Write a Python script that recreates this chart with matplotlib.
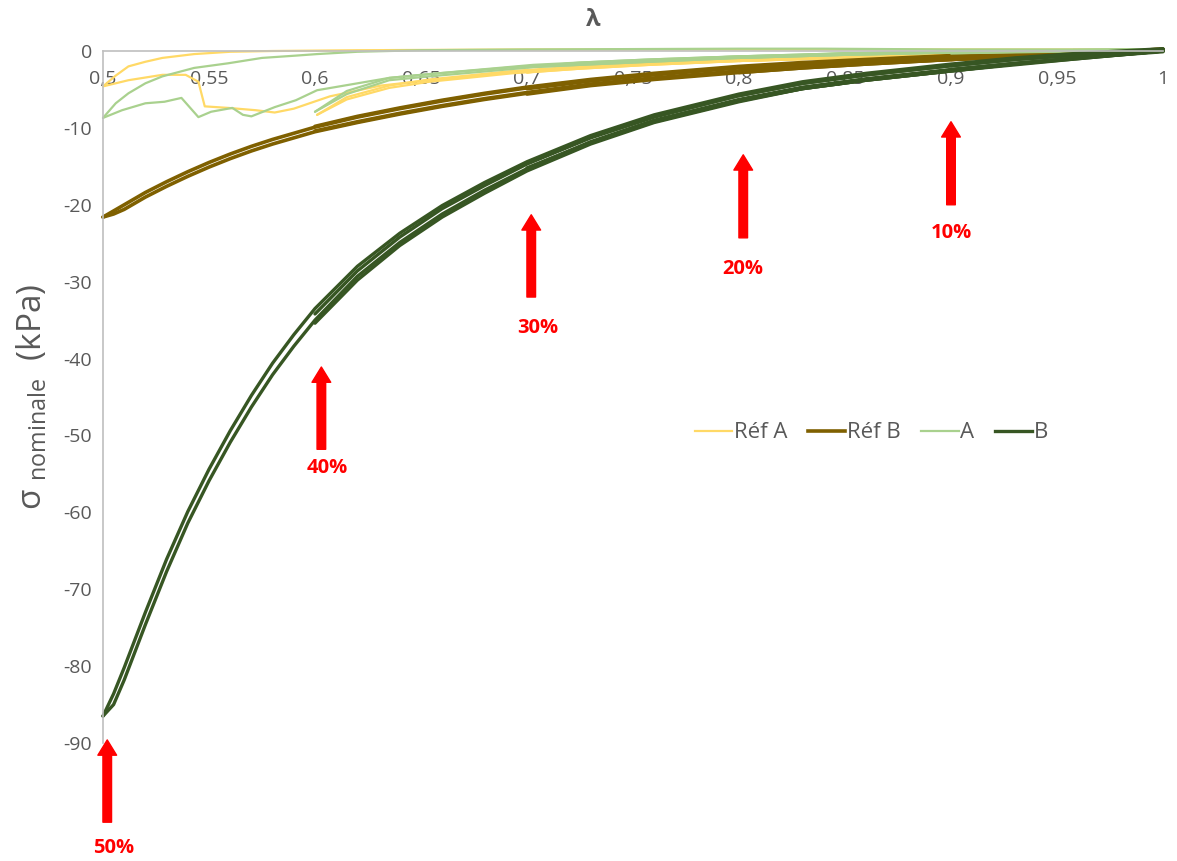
import matplotlib
matplotlib.use("Agg")
import matplotlib.pyplot as plt
from matplotlib.lines import Line2D

plt.rcParams['font.family'] = ['Open Sans', 'DejaVu Sans']
plt.rcParams['axes.unicode_minus'] = False

# common stretch grid for the B / Réf B curves
lam_grid = [0.50, 0.505, 0.51, 0.515, 0.52, 0.53, 0.54, 0.55, 0.56, 0.57, 0.58, 0.59, 0.60,
            0.62, 0.64, 0.66, 0.68, 0.70, 0.73, 0.76, 0.80, 0.83, 0.86, 0.90, 0.93, 0.96, 1.00]

# B : the two branches of each cycle (50 % .. 10 %)
b50_up = [-86.5, -83.6, -80.2, -76.6, -73.0, -66.1, -59.9, -54.4, -49.4, -44.8, -40.6, -36.9, -33.5,
          -28.0, -23.7, -20.1, -17.1, -14.4, -11.0, -8.3, -5.6, -4.0, -2.9, -1.7, -0.9, -0.3, 0.3]
b50_lo = [-86.5, -85.0, -81.8, -78.2, -74.6, -67.7, -61.4, -55.9, -50.9, -46.3, -42.1, -38.4, -35.0,
          -29.3, -24.9, -21.2, -18.1, -15.3, -11.8, -9.0, -6.3, -4.7, -3.6, -2.4, -1.6, -0.9, -0.1]
b60_up = [-34.2, -28.6, -24.2, -20.5, -17.5, -14.7, -11.3, -8.6, -5.8, -4.2, -3.1, -1.9, -1.1, -0.5, 0.2]
b60_lo = [-35.4, -29.8, -25.3, -21.6, -18.5, -15.6, -12.1, -9.3, -6.6, -4.9, -3.8, -2.6, -1.8, -1.0, 0.0]
b70_up = [-14.6, -11.2, -8.5, -5.8, -4.2, -3.1, -1.9, -1.1, -0.5, 0.2]
b70_lo = [-15.2, -11.9, -9.2, -6.5, -4.9, -3.8, -2.6, -1.7, -1.0, 0.0]
b80_up = [-5.8, -4.2, -3.1, -1.9, -1.1, -0.5, 0.2]
b80_lo = [-6.4, -4.9, -3.8, -2.6, -1.7, -0.9, 0.0]
b90_up = [-1.9, -1.0, -0.4, 0.2]
b90_lo = [-2.4, -1.6, -0.9, 0.0]

# Réf B
rb50_up = [-21.6, -20.8, -20.0, -19.2, -18.4, -17.0, -15.7, -14.5, -13.4, -12.4, -11.5, -10.7, -9.9,
           -8.6, -7.5, -6.5, -5.6, -4.8, -3.8, -3.0, -2.1, -1.6, -1.2, -0.7, -0.4, -0.1, 0.2]
rb50_lo = [-21.6, -21.2, -20.6, -19.8, -19.0, -17.6, -16.3, -15.1, -14.0, -13.0, -12.1, -11.3, -10.5,
           -9.3, -8.2, -7.2, -6.3, -5.5, -4.4, -3.6, -2.7, -2.1, -1.6, -1.1, -0.7, -0.3, 0.1]
rb60_up = [-9.8, -8.5, -7.4, -6.4, -5.5, -4.7, -3.7, -2.9, -2.0, -1.5, -1.1, -0.6, -0.3, -0.1, 0.2]
rb60_lo = [-10.4, -9.2, -8.1, -7.1, -6.2, -5.4, -4.3, -3.5, -2.6, -2.0, -1.5, -1.0, -0.6, -0.3, 0.1]
rb70_up = [-4.9, -3.9, -3.1, -2.2, -1.7, -1.3, -0.8, -0.4, -0.1, 0.2]
rb70_lo = [-5.6, -4.5, -3.7, -2.8, -2.2, -1.7, -1.1, -0.7, -0.3, 0.1]
rb80_up = [-2.2, -1.7, -1.3, -0.8, -0.4, -0.1, 0.2]
rb80_lo = [-2.8, -2.2, -1.7, -1.1, -0.7, -0.3, 0.1]
rb90_up = [-0.8, -0.5, -0.2, 0.2]
rb90_lo = [-1.1, -0.7, -0.3, 0.1]

# Réf A (own stretch points, the 50 % cycle is noisy)
ra50_unload_lam = [0.5, 0.506, 0.512, 0.52, 0.528, 0.543, 0.56, 0.58, 0.62, 0.7, 0.8, 0.9, 1.0]
ra50_unload = [-4.6, -3.2, -2.0, -1.4, -0.9, -0.4, -0.1, 0.0, 0.1, 0.2, 0.2, 0.2, 0.2]
ra50_load_lam = [0.5, 0.512, 0.528, 0.539, 0.545, 0.548, 0.559, 0.572, 0.581, 0.59, 0.607,
                 0.631, 0.654, 0.693, 0.725, 0.75, 0.8, 0.85, 0.9, 0.95, 1.0]
ra50_load = [-4.6, -3.8, -3.1, -3.1, -4.0, -7.2, -7.4, -7.7, -8.0, -7.5, -5.9,
             -4.5, -3.8, -2.8, -2.2, -1.8, -1.3, -0.8, -0.5, -0.2, 0.1]
ra60_lam = [0.601, 0.615, 0.635, 0.654, 0.693, 0.725, 0.758, 0.8, 0.85, 0.9, 0.95, 1.0]
ra60_load = [-8.3, -6.3, -4.8, -4.0, -2.9, -2.3, -1.8, -1.3, -0.9, -0.5, -0.2, 0.1]
ra60_unload = [-8.3, -6.0, -4.5, -3.7, -2.6, -2.0, -1.6, -1.1, -0.7, -0.3, -0.1, 0.1]
ra70_lam = [0.7, 0.725, 0.758, 0.8, 0.85, 0.9, 0.95, 1.0]
ra70_load = [-2.8, -2.3, -1.8, -1.3, -0.9, -0.5, -0.2, 0.1]
ra70_unload = [-2.8, -2.0, -1.6, -1.1, -0.7, -0.3, -0.1, 0.1]
ra80_lam = [0.8, 0.85, 0.9, 0.95, 1.0]
ra80_load = [-1.3, -0.9, -0.5, -0.2, 0.1]
ra80_unload = [-1.3, -0.7, -0.3, -0.1, 0.1]
ra90_lam = [0.9, 0.95, 1.0]
ra90_load = [-0.5, -0.2, 0.1]
ra90_unload = [-0.5, -0.1, 0.1]

# A
a50_unload_lam = [0.5, 0.506, 0.512, 0.52, 0.528, 0.543, 0.559, 0.575, 0.591, 0.601, 0.62,
                  0.65, 0.7, 0.8, 0.84, 0.9, 1.0]
a50_unload = [-8.7, -6.8, -5.5, -4.2, -3.3, -2.2, -1.6, -0.9, -0.6, -0.4, -0.1,
              0.1, 0.2, 0.3, 0.3, 0.2, 0.2]
a50_load_lam = [0.5, 0.509, 0.52, 0.529, 0.537, 0.545, 0.551, 0.561, 0.566, 0.570, 0.581, 0.591,
                0.601, 0.635, 0.654, 0.703, 0.725, 0.758, 0.8, 0.85, 0.9, 0.95, 1.0]
a50_load = [-8.7, -7.7, -6.8, -6.6, -6.1, -8.6, -7.9, -7.4, -8.3, -8.5, -7.3, -6.4,
            -5.1, -3.5, -3.0, -1.9, -1.6, -1.2, -0.7, -0.4, -0.1, 0.1, 0.2]
a60_lam = [0.6, 0.615, 0.635, 0.654, 0.703, 0.725, 0.758, 0.8, 0.85, 0.9, 0.95, 1.0]
a60_load = [-7.9, -5.6, -3.8, -3.3, -2.1, -1.8, -1.4, -0.9, -0.5, -0.2, 0.0, 0.2]
a60_unload = [-7.9, -5.2, -3.5, -3.0, -1.8, -1.5, -1.1, -0.7, -0.3, -0.1, 0.1, 0.2]
a70_lam = [0.7, 0.725, 0.758, 0.8, 0.85, 0.9, 0.95, 1.0]
a70_load = [-2.1, -1.8, -1.4, -0.9, -0.5, -0.2, 0.0, 0.2]
a70_unload = [-2.1, -1.5, -1.1, -0.7, -0.3, -0.1, 0.1, 0.2]
a80_lam = [0.8, 0.85, 0.9, 0.95, 1.0]
a80_load = [-0.9, -0.5, -0.2, 0.0, 0.2]
a80_unload = [-0.9, -0.3, -0.1, 0.1, 0.2]
a90_lam = [0.9, 0.95, 1.0]
a90_load = [-0.3, -0.1, 0.2]
a90_unload = [-0.3, 0.0, 0.2]

series_names = ['Réf A', 'Réf B', 'A', 'B']
series_colors = ['#FFD966', '#7F6000', '#A9D18E', '#375623']
series_lw = [1.6, 2.6, 1.6, 2.4]

# compression levels marked with arrows
arrow_lam = [0.9, 0.802, 0.702, 0.603, 0.502]
arrow_tail = [-20.0, -24.3, -32.0, -51.8, -100.3]
arrow_tip = [-9.2, -13.5, -21.3, -41.1, -89.6]
arrow_text_lam = [0.9, 0.802, 0.705, 0.606, 0.505]
arrow_text_y = [-23.7, -28.3, -36.0, -54.2, -103.6]
arrow_labels = ['10%', '20%', '30%', '40%', '50%']

x_ticks = [0.5, 0.55, 0.6, 0.65, 0.7, 0.75, 0.8, 0.85, 0.9, 0.95, 1.0]
x_ticklabels = ['0,5', '0,55', '0,6', '0,65', '0,7', '0,75', '0,8', '0,85', '0,9', '0,95', '1']
y_ticks = [0, -10, -20, -30, -40, -50, -60, -70, -80, -90]
y_ticklabels = ['0', '-10', '-20', '-30', '-40', '-50', '-60', '-70', '-80', '-90']

grey = '#595959'

fig = plt.figure(figsize=(11.77, 8.61), dpi=100)
ax = fig.add_axes([103 / 1177, 1 - 743 / 861, 1060 / 1177, 692 / 861])

def draw(lams, sigs, k):
    ax.plot(lams, sigs, color=series_colors[k], lw=series_lw[k],
            solid_capstyle='round', solid_joinstyle='round', clip_on=False)

# Réf A
draw(ra50_load_lam, ra50_load, 0)
draw(ra50_unload_lam, ra50_unload, 0)
for lam, ld, ul in [(ra60_lam, ra60_load, ra60_unload), (ra70_lam, ra70_load, ra70_unload),
                    (ra80_lam, ra80_load, ra80_unload), (ra90_lam, ra90_load, ra90_unload)]:
    draw(lam, ld, 0)
    draw(lam, ul, 0)

# Réf B
for up, lo in [(rb50_up, rb50_lo), (rb60_up, rb60_lo), (rb70_up, rb70_lo),
               (rb80_up, rb80_lo), (rb90_up, rb90_lo)]:
    draw(lam_grid[-len(up):], up, 1)
    draw(lam_grid[-len(lo):], lo, 1)

# A
draw(a50_load_lam, a50_load, 2)
draw(a50_unload_lam, a50_unload, 2)
for lam, ld, ul in [(a60_lam, a60_load, a60_unload), (a70_lam, a70_load, a70_unload),
                    (a80_lam, a80_load, a80_unload), (a90_lam, a90_load, a90_unload)]:
    draw(lam, ld, 2)
    draw(lam, ul, 2)

# B
for up, lo in [(b50_up, b50_lo), (b60_up, b60_lo), (b70_up, b70_lo),
               (b80_up, b80_lo), (b90_up, b90_lo)]:
    draw(lam_grid[-len(up):], up, 3)
    draw(lam_grid[-len(lo):], lo, 3)

# arrows
for xa, t0, t1, xt, yt, lab in zip(arrow_lam, arrow_tail, arrow_tip,
                                   arrow_text_lam, arrow_text_y, arrow_labels):
    ax.annotate('', xy=(xa, t1), xytext=(xa, t0), annotation_clip=False,
                arrowprops=dict(arrowstyle='simple,head_length=1.1,head_width=1.35,tail_width=0.62',
                                color='red', shrinkA=0, shrinkB=0, mutation_scale=10))
    ax.text(xt, yt, lab, color='red', fontweight='bold', fontsize=14.5,
            ha='center', va='center', clip_on=False)

ax.set_xlim(0.5, 1.0)
ax.set_ylim(-90, 0)
ax.spines['bottom'].set_position(('data', 0))
for s in ['top', 'right']:
    ax.spines[s].set_visible(False)
for s in ['bottom', 'left']:
    ax.spines[s].set_color('#BFBFBF')
    ax.spines[s].set_linewidth(1.2)
ax.set_xticks(x_ticks)
ax.set_xticklabels(x_ticklabels)
ax.set_yticks(y_ticks)
ax.set_yticklabels(y_ticklabels)
ax.tick_params(axis='x', length=0, pad=14, labelsize=14, labelcolor=grey)
ax.tick_params(axis='y', length=0, pad=8, labelsize=14, labelcolor=grey)

ax.set_ylabel(r'σ $_{\mathregular{nominale}}$  (kPa)', fontsize=24, color=grey, labelpad=10)
fig.text(593 / 1177, 1 - 20 / 861, 'λ', fontsize=17, fontweight='bold', color=grey,
         ha='center', va='center')

handles = [Line2D([], [], color=c, lw=w) for c, w in zip(series_colors, series_lw)]
ax.legend(handles, series_names, loc='center', bbox_to_anchor=(0.725, 0.448), ncol=4,
          frameon=False, fontsize=16, labelcolor=grey, handlelength=1.7,
          handletextpad=0.08, columnspacing=0.9)

fig.savefig('out.png', dpi=100)
